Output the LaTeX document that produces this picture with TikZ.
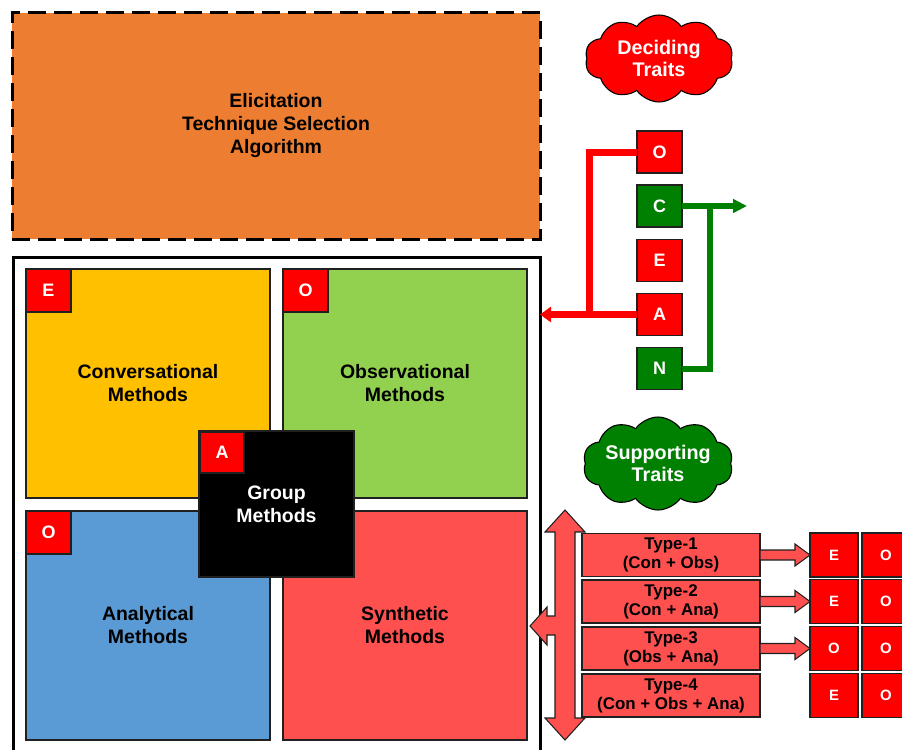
\documentclass[tikz,border=0pt]{standalone}
\usepackage{fontspec}
\setmainfont{Liberation Sans}
\usetikzlibrary{shapes.symbols,arrows.meta,calc}

\definecolor{elicorange}{HTML}{ED7D31}
\definecolor{convyellow}{HTML}{FFC000}
\definecolor{obsgreen}{HTML}{92D050}
\definecolor{anablue}{HTML}{5B9BD5}
\definecolor{synred}{HTML}{FF5050}
\definecolor{traitred}{HTML}{FF0000}
\definecolor{traitgreen}{HTML}{008000}
\definecolor{edgegray}{HTML}{202020}

\def\u{0.75pt}

\begin{document}
\begin{tikzpicture}[x=0.75pt,y=-0.75pt,
  box/.style={draw=edgegray, line width=0.9pt, inner sep=0pt, outer sep=0pt, align=center},
  mainlbl/.style={font=\fontsize{14.6pt}{17.25pt}\selectfont\bfseries},
  typelbl/.style={font=\fontsize{12.7pt}{14.25pt}\selectfont\bfseries},
  letter/.style={box, text=white, font=\fontsize{13.5pt}{15pt}\selectfont\bfseries},
  smallletter/.style={box, fill=traitred, text=white, font=\fontsize{11.2pt}{13pt}\selectfont\bfseries,
    minimum width=48*\u, minimum height=44*\u},
  corner/.style={letter, fill=traitred, minimum width=45*\u, minimum height=43*\u},
  ocean/.style={letter, minimum width=45*\u, minimum height=42*\u},
  method/.style={box, mainlbl, minimum width=244*\u, minimum height=229*\u},
  typebox/.style={box, typelbl, fill=synred, line width=1.2pt, minimum width=178*\u, minimum height=43*\u},
  traitcloud/.style={cloud, cloud puffs=10, cloud puff arc=110, cloud ignores aspect,
    inner sep=0pt, draw=black, line width=0.8pt},
  cloudtext/.style={text=white, align=center, font=\fontsize{14.8pt}{16pt}\selectfont\bfseries},
  redlink/.style={draw=traitred, line width=5.25pt},
  greenlink/.style={draw=traitgreen, line width=4.5pt},
  blockarrow/.style={fill=synred, draw=edgegray, line width=0.8pt, line join=miter}
]
\useasboundingbox (0,0) rectangle (902,749);
\clip (0,0) rectangle (902,749);

% algorithm box
\node[box, mainlbl, fill=elicorange, draw=black, line width=2.25pt,
  dash pattern=on 13.5pt off 6pt,
  minimum width=528*\u, minimum height=226*\u] (elic) at (276,126)
  {Elicitation\\Technique Selection\\Algorithm};

% outer frame of the method quadrants
\node[draw=black, line width=2.25pt, inner sep=0pt, outer sep=0pt,
  minimum width=526.5*\u, minimum height=513*\u] (frame) at (276.75,513.5) {};

% method quadrants
\node[method, fill=convyellow] (conv) at (148,383.5) {Conversational\\Methods};
\node[method, fill=obsgreen]   (obs)  at (405,383.5) {Observational\\Methods};
\node[method, fill=anablue]    (ana)  at (148,625.5) {Analytical\\Methods};
\node[method, fill=synred]     (syn)  at (405,625.5) {Synthetic\\Methods};
\node[box, mainlbl, fill=black, text=white, minimum width=155*\u, minimum height=146*\u]
  (grp) at (276.5,504) {Group\\Methods};

% trait tags on the quadrants
\node[corner] (convE) at (48.5,290.5) {E};
\node[corner] (obsO)  at (305.5,290.5) {O};
\node[corner] (anaO)  at (48.5,532.5) {O};
\node[corner, minimum width=44*\u, minimum height=41*\u] (grpA) at (222,452.5) {A};

% deciding traits
\node[traitcloud, fill=traitred, minimum width=148*\u, minimum height=87*\u,
  label={[cloudtext]center:Deciding\\Traits}] (decide) at (659,58.5) {};

\node[ocean, fill=traitred]   (tO) at (659.5,152)   {O};
\node[ocean, fill=traitgreen] (tC) at (659.5,206)   {C};
\node[ocean, fill=traitred]   (tE) at (659.5,260.5) {E};
\node[ocean, fill=traitred]   (tA) at (659.5,314.5) {A};
\node[ocean, fill=traitgreen] (tN) at (659.5,368.5) {N};

\coordinate (rjoin) at (589,0);
\coordinate (gjoin) at (710,0);
\coordinate (gend)  at (747,0);

\draw[redlink] (tO.west) -| (rjoin |- tA.west);
\draw[redlink, -{Triangle[length=8.25pt, width=11.25pt]}] (tA.west) -- (tA.west -| frame.east);
\draw[greenlink] (tN.east) -| (gjoin |- tC.east);
\draw[greenlink, -{Triangle[length=10.5pt, width=10pt]}] (tC.east) -- (tC.east -| gend);

% supporting traits
\node[traitcloud, fill=traitgreen, minimum width=150*\u, minimum height=93*\u,
  label={[cloudtext]center:Supporting\\Traits}] (support) at (658,463.5) {};

% three-way block arrow between the frame and the type boxes
\draw[blockarrow] (565,510) -- (585,532) -- (575,532) -- (575,718) -- (585,718)
  -- (565,740) -- (545,718) -- (555,718) -- (555,635) -- (547,635) -- (547,645)
  -- (530,626) -- (547,607) -- (547,616) -- (555,616) -- (555,532) -- (545,532) -- cycle;

% combination types
\node[typebox] (ty1) at (671,555)   {Type-1\\(Con + Obs)};
\node[typebox] (ty2) at (671,601.5) {Type-2\\(Con + Ana)};
\node[typebox] (ty3) at (671,648.5) {Type-3\\(Obs + Ana)};
\node[typebox] (ty4) at (671,695.5) {Type-4\\(Con + Obs + Ana)};

\node[smallletter] (s1a) at (834,555)   {E};
\node[smallletter] (s1b) at (886,555)   {O};
\node[smallletter] (s2a) at (834,601.5) {E};
\node[smallletter] (s2b) at (886,601.5) {O};
\node[smallletter] (s3a) at (834,648.5) {O};
\node[smallletter] (s3b) at (886,648.5) {O};
\node[smallletter] (s4a) at (834,695.5) {E};
\node[smallletter] (s4b) at (886,695.5) {O};

% block arrows from types to their traits
\foreach \t/\s in {ty1/s1a, ty2/s2a, ty3/s3a}{
  \draw[blockarrow] ($(\t.east)+(0,-5)$) -- ($(\s.west)+(-15,-5)$) -- ($(\s.west)+(-15,-11)$)
    -- (\s.west) -- ($(\s.west)+(-15,11)$) -- ($(\s.west)+(-15,5)$) -- ($(\t.east)+(0,5)$) -- cycle;
}
\end{tikzpicture}
\end{document}
